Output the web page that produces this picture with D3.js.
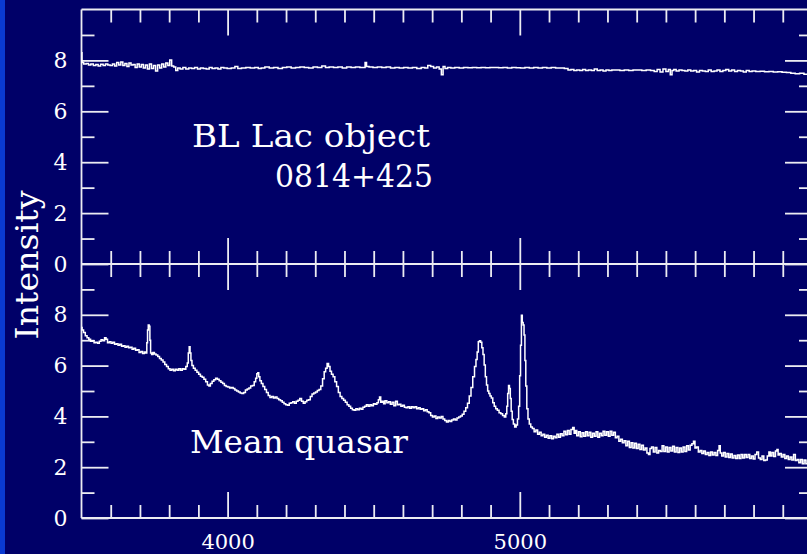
<!DOCTYPE html>
<html>
<head>
<meta charset="utf-8">
<script src="https://cdn.jsdelivr.net/npm/d3@7"></script>
<style>
  html, body { margin: 0; padding: 0; background: #000068; }
  svg { display: block; }
  text { font-family: "DejaVu Serif", "Liberation Serif", serif; fill: #ffffff; }
</style>
</head>
<body>
<svg id="chart" width="807" height="554"></svg>
<script>
// Wavelength axis (Angstrom) and tick marks
const xDomain = [3500, 6000];
const xMajorTicks = [4000, 5000];
const xMinorTicks = [3600, 3700, 3800, 3900, 4100, 4200, 4300, 4400, 4500, 4600, 4700, 4800, 4900,
                     5100, 5200, 5300, 5400, 5500, 5600, 5700, 5800, 5900];
const yDomain = [0, 10];
const yMajorTicks = [0, 2, 4, 6, 8];
const yMinorTicks = [1, 3, 5, 7, 9];

const axisTitle = "Intensity";
const topLabel = ["BL Lac object", "0814+425"];
const bottomLabel = "Mean quasar";

// BL Lac object 0814+425: [wavelength, intensity]
const blLacSpectrum = [
  [3500, 8.30], [3503, 7.92], [3512, 7.86], [3520, 7.88], [3528, 7.82], [3536, 7.86], [3545, 7.80],
  [3553, 7.84], [3561, 7.78], [3570, 7.85], [3578, 7.80], [3586, 7.86], [3594, 7.82], [3602, 7.80],
  [3610, 7.86], [3617, 7.78], [3624, 7.92], [3631, 7.82], [3638, 7.94], [3645, 7.80], [3652, 7.88],
  [3659, 7.76], [3666, 7.90], [3673, 7.82], [3680, 7.84], [3687, 7.72], [3694, 7.86], [3701, 7.74],
  [3708, 7.84], [3715, 7.70], [3722, 7.82], [3729, 7.66], [3736, 7.86], [3743, 7.68], [3750, 7.80],
  [3757, 7.58], [3764, 7.82], [3771, 7.70], [3778, 7.86], [3785, 7.74], [3792, 7.90], [3799, 7.80],
  [3805, 8.02], [3812, 7.78], [3819, 7.74], [3826, 7.60], [3833, 7.70], [3842, 7.66], [3852, 7.72],
  [3862, 7.66], [3872, 7.70], [3882, 7.68], [3892, 7.72], [3902, 7.66], [3912, 7.70], [3922, 7.68],
  [3932, 7.66], [3942, 7.72], [3952, 7.68], [3962, 7.70], [3972, 7.66], [3982, 7.72], [3992, 7.70],
  [4005, 7.68], [4020, 7.70], [4030, 7.76], [4040, 7.68], [4055, 7.70], [4070, 7.72], [4085, 7.70],
  [4100, 7.72], [4110, 7.68], [4120, 7.70], [4135, 7.74], [4150, 7.70], [4165, 7.72], [4180, 7.68],
  [4195, 7.72], [4210, 7.74], [4225, 7.70], [4240, 7.72], [4255, 7.74], [4270, 7.72], [4285, 7.70],
  [4300, 7.74], [4315, 7.72], [4330, 7.78], [4340, 7.72], [4355, 7.74], [4370, 7.72], [4385, 7.74],
  [4400, 7.70], [4415, 7.74], [4430, 7.72], [4445, 7.74], [4460, 7.72], [4468, 7.72], [4473, 7.92],
  [4478, 7.76], [4490, 7.74], [4505, 7.72], [4520, 7.74], [4535, 7.72], [4550, 7.74], [4565, 7.70],
  [4580, 7.72], [4595, 7.70], [4610, 7.72], [4625, 7.70], [4640, 7.72], [4655, 7.68], [4670, 7.72],
  [4680, 7.70], [4690, 7.80], [4700, 7.76], [4710, 7.70], [4720, 7.74], [4728, 7.66], [4735, 7.44],
  [4740, 7.76], [4748, 7.68], [4758, 7.72], [4770, 7.70], [4785, 7.72], [4800, 7.70], [4815, 7.72],
  [4830, 7.71], [4845, 7.72], [4860, 7.71], [4875, 7.72], [4890, 7.71], [4905, 7.72], [4920, 7.72],
  [4935, 7.71], [4950, 7.72], [4965, 7.70], [4980, 7.72], [4995, 7.71], [5010, 7.70], [5025, 7.72],
  [5040, 7.70], [5055, 7.72], [5070, 7.70], [5085, 7.72], [5100, 7.70], [5115, 7.72], [5130, 7.70],
  [5145, 7.70], [5160, 7.68], [5170, 7.62], [5180, 7.64], [5190, 7.60], [5200, 7.62], [5210, 7.60],
  [5220, 7.64], [5230, 7.60], [5240, 7.62], [5250, 7.60], [5260, 7.66], [5270, 7.60], [5280, 7.62],
  [5290, 7.58], [5300, 7.62], [5310, 7.60], [5320, 7.62], [5335, 7.62], [5350, 7.60], [5365, 7.62],
  [5380, 7.60], [5395, 7.62], [5410, 7.62], [5425, 7.60], [5440, 7.62], [5455, 7.60], [5465, 7.56],
  [5475, 7.64], [5485, 7.54], [5495, 7.66], [5505, 7.56], [5512, 7.64], [5518, 7.44], [5524, 7.60],
  [5530, 7.64], [5540, 7.58], [5550, 7.62], [5560, 7.60], [5570, 7.58], [5580, 7.62], [5590, 7.58],
  [5600, 7.60], [5610, 7.54], [5620, 7.60], [5630, 7.58], [5640, 7.56], [5650, 7.62], [5660, 7.56],
  [5670, 7.58], [5680, 7.62], [5690, 7.56], [5700, 7.60], [5710, 7.64], [5720, 7.58], [5730, 7.62],
  [5740, 7.56], [5750, 7.60], [5760, 7.58], [5770, 7.54], [5780, 7.60], [5790, 7.56], [5800, 7.58],
  [5815, 7.56], [5830, 7.57], [5845, 7.55], [5860, 7.56], [5875, 7.54], [5890, 7.55], [5905, 7.53],
  [5920, 7.52], [5935, 7.50], [5950, 7.48], [5965, 7.50], [5980, 7.46], [6000, 7.48]
];

// Mean quasar composite: [wavelength, intensity]
const quasarSpectrum = [
  [3500, 7.50], [3504, 7.40], [3510, 7.30], [3516, 7.18], [3522, 7.10], [3528, 7.04], [3534, 6.96],
  [3540, 6.98], [3546, 6.90], [3552, 6.92], [3558, 6.88], [3564, 6.96], [3570, 7.02], [3576, 6.98],
  [3582, 7.10], [3586, 7.04], [3592, 6.90], [3598, 6.94], [3604, 6.88], [3610, 6.92], [3616, 6.84],
  [3622, 6.86], [3628, 6.80], [3634, 6.84], [3640, 6.76], [3646, 6.78], [3652, 6.72], [3658, 6.76],
  [3664, 6.70], [3670, 6.72], [3676, 6.64], [3682, 6.68], [3688, 6.60], [3694, 6.62], [3700, 6.52],
  [3706, 6.56], [3712, 6.48], [3718, 6.54], [3722, 6.50], [3725, 6.90], [3727, 7.40], [3730, 7.60],
  [3733, 7.55], [3735, 7.00], [3738, 6.50], [3742, 6.44], [3747, 6.52], [3752, 6.46], [3758, 6.42],
  [3764, 6.36], [3770, 6.28], [3776, 6.22], [3782, 6.14], [3788, 6.04], [3794, 5.96], [3800, 5.88],
  [3806, 5.82], [3812, 5.86], [3818, 5.80], [3824, 5.86], [3830, 5.82], [3836, 5.88], [3842, 5.82],
  [3848, 5.88], [3854, 5.86], [3860, 5.96], [3864, 6.10], [3867, 6.50], [3870, 6.74], [3873, 6.50],
  [3876, 6.20], [3880, 6.00], [3886, 5.90], [3892, 5.82], [3898, 5.74], [3904, 5.66], [3910, 5.58],
  [3916, 5.54], [3922, 5.46], [3928, 5.36], [3934, 5.24], [3938, 5.20], [3944, 5.30], [3950, 5.38],
  [3956, 5.44], [3962, 5.50], [3968, 5.46], [3974, 5.40], [3980, 5.34], [3986, 5.30], [3992, 5.22],
  [3998, 5.18], [4004, 5.16], [4010, 5.12], [4016, 5.14], [4022, 5.10], [4028, 5.04], [4034, 5.00],
  [4040, 4.96], [4046, 4.92], [4052, 4.90], [4058, 4.94], [4064, 5.04], [4070, 5.08], [4076, 5.12],
  [4082, 5.20], [4088, 5.22], [4094, 5.36], [4098, 5.50], [4102, 5.68], [4105, 5.72], [4108, 5.56],
  [4113, 5.40], [4118, 5.30], [4124, 5.18], [4130, 5.06], [4136, 4.94], [4142, 4.82], [4148, 4.74],
  [4154, 4.78], [4160, 4.72], [4166, 4.76], [4172, 4.70], [4178, 4.66], [4184, 4.62], [4190, 4.56],
  [4196, 4.50], [4202, 4.46], [4208, 4.44], [4214, 4.52], [4220, 4.54], [4226, 4.58], [4232, 4.52],
  [4238, 4.60], [4244, 4.64], [4250, 4.70], [4256, 4.60], [4262, 4.52], [4268, 4.58], [4274, 4.64],
  [4280, 4.66], [4286, 4.78], [4292, 4.88], [4298, 4.92], [4304, 4.96], [4310, 5.02], [4316, 5.06],
  [4322, 5.20], [4328, 5.48], [4333, 5.76], [4338, 5.90], [4343, 6.08], [4348, 5.96], [4353, 5.78],
  [4358, 5.66], [4364, 5.56], [4370, 5.36], [4376, 5.18], [4382, 4.94], [4388, 4.78], [4394, 4.70],
  [4400, 4.64], [4406, 4.56], [4412, 4.46], [4418, 4.40], [4424, 4.32], [4430, 4.26], [4436, 4.24],
  [4442, 4.30], [4448, 4.26], [4454, 4.32], [4460, 4.28], [4466, 4.36], [4472, 4.40], [4478, 4.46],
  [4484, 4.40], [4490, 4.46], [4496, 4.42], [4502, 4.50], [4508, 4.48], [4514, 4.54], [4518, 4.66],
  [4522, 4.76], [4526, 4.56], [4532, 4.60], [4536, 4.50], [4542, 4.62], [4548, 4.54], [4554, 4.58],
  [4560, 4.48], [4566, 4.56], [4572, 4.42], [4578, 4.60], [4584, 4.46], [4590, 4.48], [4596, 4.40],
  [4602, 4.44], [4608, 4.36], [4614, 4.34], [4620, 4.38], [4626, 4.32], [4632, 4.38], [4638, 4.34],
  [4644, 4.38], [4650, 4.30], [4656, 4.34], [4662, 4.28], [4668, 4.30], [4674, 4.22], [4680, 4.26],
  [4686, 4.18], [4692, 4.14], [4698, 4.04], [4704, 3.98], [4710, 4.02], [4716, 3.92], [4722, 3.98],
  [4728, 3.94], [4734, 4.00], [4740, 3.90], [4746, 3.84], [4752, 3.78], [4758, 3.84], [4764, 3.80],
  [4770, 3.86], [4776, 3.90], [4782, 3.86], [4788, 3.94], [4794, 3.98], [4800, 4.02], [4806, 4.08],
  [4812, 4.20], [4818, 4.34], [4824, 4.52], [4830, 4.80], [4836, 5.14], [4842, 5.56], [4848, 5.96],
  [4852, 6.24], [4856, 6.54], [4860, 6.94], [4864, 6.98], [4868, 6.92], [4872, 6.70], [4876, 6.44],
  [4880, 6.02], [4884, 5.56], [4888, 5.24], [4892, 5.00], [4896, 4.90], [4900, 4.80], [4905, 4.72],
  [4910, 4.54], [4915, 4.40], [4920, 4.30], [4926, 4.24], [4932, 4.14], [4938, 4.10], [4944, 4.04],
  [4950, 3.98], [4954, 4.10], [4957, 4.40], [4960, 4.90], [4963, 5.22], [4966, 5.10], [4969, 4.70],
  [4972, 4.20], [4976, 3.88], [4980, 3.70], [4985, 3.58], [4990, 3.66], [4994, 3.90], [4998, 4.40],
  [5001, 5.60], [5004, 6.80], [5007, 7.98], [5010, 7.70], [5013, 7.60], [5016, 7.20], [5019, 6.20],
  [5022, 5.20], [5026, 4.30], [5030, 3.90], [5035, 3.70], [5040, 3.58], [5046, 3.52], [5052, 3.40],
  [5058, 3.46], [5064, 3.30], [5070, 3.38], [5076, 3.24], [5082, 3.30], [5088, 3.18], [5094, 3.26],
  [5100, 3.14], [5106, 3.24], [5112, 3.12], [5118, 3.22], [5124, 3.16], [5130, 3.30], [5136, 3.18],
  [5142, 3.32], [5148, 3.24], [5154, 3.42], [5160, 3.28], [5166, 3.44], [5172, 3.30], [5178, 3.48],
  [5184, 3.56], [5188, 3.34], [5192, 3.44], [5198, 3.24], [5204, 3.40], [5210, 3.20], [5216, 3.36],
  [5222, 3.22], [5228, 3.40], [5234, 3.24], [5240, 3.38], [5246, 3.18], [5252, 3.34], [5258, 3.22],
  [5264, 3.40], [5270, 3.18], [5276, 3.34], [5282, 3.24], [5288, 3.42], [5294, 3.26], [5300, 3.40],
  [5306, 3.22], [5312, 3.42], [5318, 3.26], [5324, 3.38], [5330, 3.16], [5336, 3.22], [5342, 3.02],
  [5348, 3.10], [5354, 2.96], [5360, 3.04], [5366, 2.84], [5372, 3.02], [5378, 2.78], [5384, 2.96],
  [5390, 2.76], [5396, 2.94], [5402, 2.74], [5408, 2.90], [5414, 2.70], [5420, 2.86], [5426, 2.68],
  [5432, 2.76], [5438, 2.56], [5443, 2.50], [5448, 2.74], [5454, 2.80], [5460, 2.60], [5466, 2.78],
  [5472, 2.56], [5478, 2.66], [5484, 2.62], [5490, 2.84], [5496, 2.62], [5502, 2.80], [5508, 2.60],
  [5514, 2.78], [5520, 2.64], [5526, 2.82], [5532, 2.60], [5538, 2.78], [5544, 2.58], [5550, 2.76],
  [5556, 2.60], [5562, 2.80], [5568, 2.62], [5574, 2.84], [5580, 2.68], [5586, 2.86], [5592, 2.92],
  [5597, 3.02], [5602, 2.76], [5608, 2.80], [5614, 2.60], [5620, 2.66], [5626, 2.54], [5632, 2.64],
  [5638, 2.50], [5644, 2.58], [5650, 2.46], [5656, 2.60], [5662, 2.48], [5668, 2.58], [5674, 2.46],
  [5680, 2.66], [5684, 2.84], [5688, 2.56], [5694, 2.44], [5700, 2.58], [5706, 2.40], [5712, 2.54],
  [5718, 2.38], [5724, 2.52], [5730, 2.36], [5736, 2.46], [5742, 2.34], [5748, 2.48], [5754, 2.34],
  [5760, 2.50], [5766, 2.36], [5772, 2.50], [5778, 2.38], [5784, 2.50], [5790, 2.34], [5796, 2.44],
  [5802, 2.32], [5808, 2.50], [5814, 2.60], [5820, 2.36], [5826, 2.30], [5832, 2.44], [5838, 2.26],
  [5844, 2.28], [5850, 2.44], [5855, 2.60], [5860, 2.44], [5866, 2.58], [5872, 2.42], [5878, 2.64],
  [5882, 2.70], [5886, 2.48], [5892, 2.54], [5898, 2.40], [5904, 2.50], [5910, 2.34], [5916, 2.44],
  [5922, 2.30], [5928, 2.40], [5934, 2.28], [5940, 2.50], [5946, 2.26], [5952, 2.30], [5958, 2.18],
  [5964, 2.30], [5970, 2.14], [5976, 2.28], [5982, 2.14], [5988, 2.26], [5994, 2.12], [6000, 2.22]
];

const W = 807, H = 554;
const frame = { left: 81.5, right: 812, top: 9.5, mid: 264, bottom: 518 };
const ink = "#ececf2";

const svg = d3.select("#chart");

// background and the bright strip down the left edge
svg.append("rect").attr("width", W).attr("height", H).attr("fill", "#000068");
svg.append("rect").attr("width", 5).attr("height", H).attr("fill", "#0a3ad2");

const x = d3.scaleLinear().domain(xDomain).range([frame.left, frame.right]);
const yTop = d3.scaleLinear().domain(yDomain).range([frame.mid, frame.top]);
const yBot = d3.scaleLinear().domain(yDomain).range([frame.bottom, frame.mid]);

function styleAxis(g, size) {
  g.select(".domain").remove();
  g.selectAll(".tick line").attr("stroke", ink).attr("stroke-width", 1.8);
  g.selectAll(".tick text")
    .attr("fill", "#ffffff")
    .style("font-family", '"DejaVu Serif", serif')
    .style("font-size", (size || 22) + "px");
}

function addAxis(axis, tx, ty, size) {
  svg.append("g").attr("transform", `translate(${tx},${ty})`).call(axis).call(styleAxis, size);
}

// horizontal axes: inward ticks on the top frame, both sides of the shared middle line, bottom frame
const majorLen = 26, minorLen = 13;
addAxis(d3.axisTop(x).tickValues(xMinorTicks).tickSize(-minorLen).tickFormat(""), 0, frame.top);
addAxis(d3.axisTop(x).tickValues(xMajorTicks).tickSize(-majorLen).tickFormat(""), 0, frame.top);
addAxis(d3.axisBottom(x).tickValues(xMinorTicks).tickSize(-minorLen).tickFormat(""), 0, frame.mid);
addAxis(d3.axisBottom(x).tickValues(xMajorTicks).tickSize(-majorLen).tickFormat(""), 0, frame.mid);
addAxis(d3.axisTop(x).tickValues(xMinorTicks).tickSize(-minorLen).tickFormat(""), 0, frame.mid);
addAxis(d3.axisTop(x).tickValues(xMajorTicks).tickSize(-majorLen).tickFormat(""), 0, frame.mid);
addAxis(d3.axisBottom(x).tickValues(xMinorTicks).tickSize(-minorLen).tickFormat(""), 0, frame.bottom);
addAxis(d3.axisBottom(x).tickValues(xMajorTicks).tickSize(-majorLen).tickPadding(16).tickFormat(d3.format("d")), 0, frame.bottom, 21);

// vertical axes for both panels
[yTop, yBot].forEach(y => {
  addAxis(d3.axisLeft(y).tickValues(yMinorTicks).tickSize(-minorLen).tickFormat(""), frame.left, 0);
  addAxis(d3.axisLeft(y).tickValues(yMajorTicks).tickSize(-27).tickPadding(14).tickFormat(d3.format("d")), frame.left, 0);
  addAxis(d3.axisRight(y).tickValues(yMinorTicks).tickSize(-minorLen).tickFormat(""), frame.right, 0);
  addAxis(d3.axisRight(y).tickValues(yMajorTicks).tickSize(-27).tickFormat(""), frame.right, 0);
});

// frame lines
const frameLines = [
  [frame.left, frame.top, frame.right, frame.top],
  [frame.left, frame.mid, frame.right, frame.mid],
  [frame.left, frame.bottom, frame.right, frame.bottom],
  [frame.left, frame.top, frame.left, frame.bottom],
  [frame.right, frame.top, frame.right, frame.bottom]
];
svg.append("g").selectAll("line").data(frameLines).join("line")
  .attr("x1", d => d[0]).attr("y1", d => d[1]).attr("x2", d => d[2]).attr("y2", d => d[3])
  .attr("stroke", ink).attr("stroke-width", 1.8);

// spectra drawn as binned steps
function spectrumLine(y) {
  return d3.line().x(d => x(d[0])).y(d => y(d[1])).curve(d3.curveStep);
}
svg.append("path").datum(blLacSpectrum)
  .attr("d", spectrumLine(yTop))
  .attr("fill", "none").attr("stroke", "#ffffff").attr("stroke-width", 1.5)
  .attr("stroke-linejoin", "miter");
svg.append("path").datum(quasarSpectrum)
  .attr("d", spectrumLine(yBot))
  .attr("fill", "none").attr("stroke", "#ffffff").attr("stroke-width", 1.5)
  .attr("stroke-linejoin", "miter");

// annotations
function label(txt, tx, ty, len, size) {
  svg.append("text").attr("x", tx).attr("y", ty)
    .attr("textLength", len).attr("lengthAdjust", "spacingAndGlyphs")
    .style("font-size", size + "px").text(txt);
}
label(topLabel[0], 192, 147, 238, 31);
label(topLabel[1], 275, 187, 158, 31);
label(bottomLabel, 190, 453, 218, 31);

svg.append("text")
  .attr("transform", `translate(38,265) rotate(-90)`)
  .attr("text-anchor", "middle")
  .attr("textLength", 149).attr("lengthAdjust", "spacingAndGlyphs")
  .style("font-size", "31px")
  .text(axisTitle);
</script>
</body>
</html>
